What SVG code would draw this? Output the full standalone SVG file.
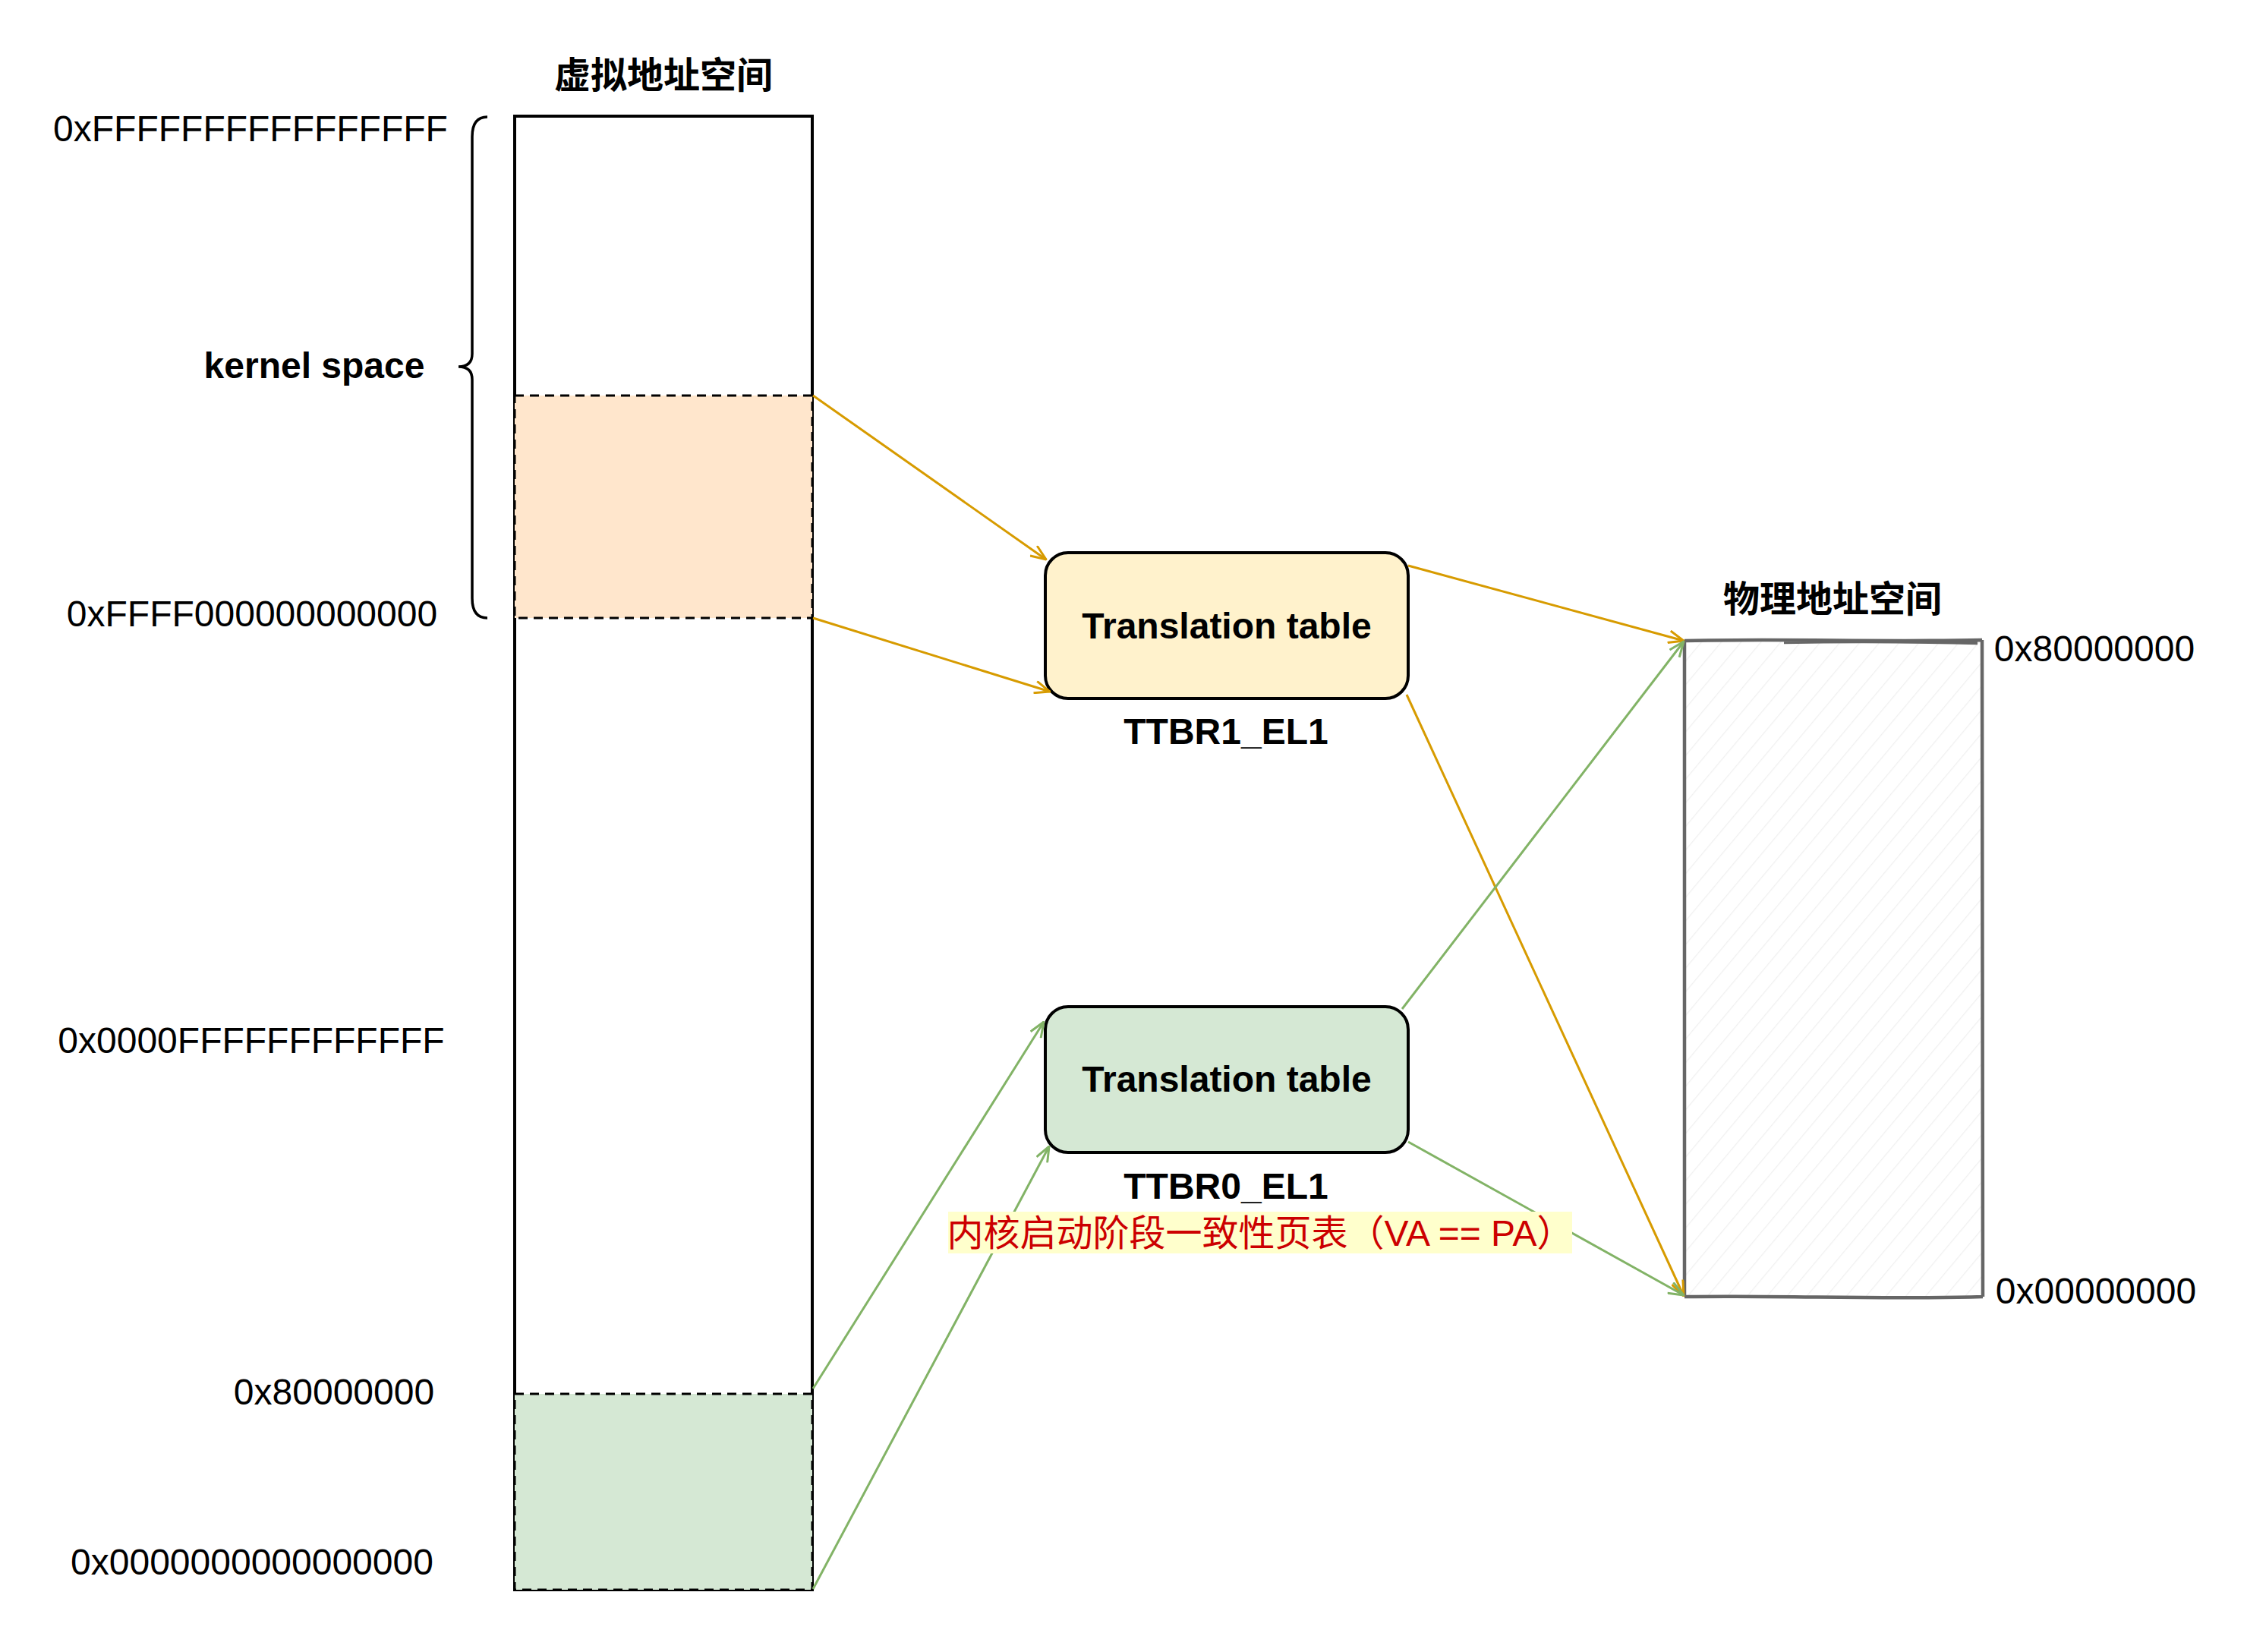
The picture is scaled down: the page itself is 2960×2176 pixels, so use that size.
<svg xmlns="http://www.w3.org/2000/svg" width="2960" height="2176" viewBox="0 0 2960 2176">
<defs>
<style>
.t{font-family:"Liberation Sans",Arial,"Noto Sans CJK SC",sans-serif;font-size:48px;fill:#000}
.b{font-weight:bold}
.cjk{font-family:"Liberation Sans","Noto Sans CJK SC",sans-serif;font-size:48px}
.box{stroke:#000;stroke-width:4}
.dash{stroke:#000;stroke-width:3;stroke-dasharray:12 8}
.co{fill:none;stroke:#d79b00;stroke-width:3}
.cg{fill:none;stroke:#82b366;stroke-width:3}
</style>
<marker id="ao" viewBox="0 0 22 18" refX="21" refY="9" markerWidth="22" markerHeight="18" markerUnits="userSpaceOnUse" orient="auto">
<path d="M1,1 L21,9 L1,17" fill="none" stroke="#d79b00" stroke-width="3"/>
</marker>
<marker id="ag" viewBox="0 0 22 18" refX="21" refY="9" markerWidth="22" markerHeight="18" markerUnits="userSpaceOnUse" orient="auto">
<path d="M1,1 L21,9 L1,17" fill="none" stroke="#82b366" stroke-width="3"/>
</marker>
<pattern id="hatch" patternUnits="userSpaceOnUse" width="20" height="20" patternTransform="rotate(40)">
<line x1="0" y1="0" x2="0" y2="20" stroke="#f0f0f0" stroke-width="2.5"/>
</pattern>
</defs>
<rect width="2960" height="2176" fill="#fff"/>

<g id="va-space">
<text class="t cjk b" x="874" y="116" text-anchor="middle">虚拟地址空间</text>
<rect x="678" y="153" width="392" height="1941" fill="#fff" class="box"/>
</g>
<g id="kernel-region">
<rect x="678" y="521" width="392" height="293" fill="#ffe6cc" class="dash"/>
</g>
<g id="low-region">
<rect x="678" y="1836" width="392" height="258" fill="#d5e8d4" class="dash"/>
</g>
<g id="brace">
<path d="M642,154 Q622,154 622,180 L622,466 Q622,483 604,483 Q622,483 622,500 L622,788 Q622,814 642,814" fill="none" stroke="#000" stroke-width="3.5"/>
</g>
<g id="va-labels">
<text class="t" x="330" y="186" text-anchor="middle">0xFFFFFFFFFFFFFFFF</text>
<text class="t b" x="414" y="498" text-anchor="middle">kernel space</text>
<text class="t" x="332" y="825" text-anchor="middle">0xFFFF000000000000</text>
<text class="t" x="331" y="1387" text-anchor="middle">0x0000FFFFFFFFFFFF</text>
<text class="t" x="440" y="1850" text-anchor="middle">0x80000000</text>
<text class="t" x="332" y="2074" text-anchor="middle">0x0000000000000000</text>
</g>

<g id="tt1">
<rect x="1377" y="728" width="478" height="192" rx="30" ry="30" fill="#fff2cc" class="box"/>
<text class="t b" x="1616" y="841" text-anchor="middle">Translation table</text>
<text class="t b" x="1615" y="980" text-anchor="middle">TTBR1_EL1</text>
</g>
<g id="tt0">
<rect x="1377" y="1326" width="478" height="192" rx="30" ry="30" fill="#d5e8d4" class="box"/>
<text class="t b" x="1616" y="1438" text-anchor="middle">Translation table</text>
<text class="t b" x="1615" y="1579" text-anchor="middle">TTBR0_EL1</text>
</g>

<g id="pa-space">
<text class="t cjk b" x="2414" y="806" text-anchor="middle">物理地址空间</text>
<rect x="2219" y="844" width="392" height="864" fill="url(#hatch)"/>
<path d="M2219,844 C2350,841 2480,846 2611,843 M2350,846 C2450,844 2530,845 2605,847 M2611,843 C2613,1100 2609,1400 2612,1708 M2612,1708 C2480,1712 2350,1706 2219,1708 M2219,1708 C2217,1400 2221,1100 2219,844" fill="none" stroke="#666" stroke-width="4.5"/>
<text class="t" x="2759" y="871" text-anchor="middle">0x80000000</text>
<text class="t" x="2761" y="1717" text-anchor="middle">0x00000000</text>
</g>

<g id="connectors">
<line class="co" x1="1071" y1="521" x2="1378" y2="737" marker-end="url(#ao)"/>
<line class="co" x1="1071" y1="814" x2="1383" y2="911" marker-end="url(#ao)"/>
<line class="co" x1="1855" y1="745" x2="2218" y2="844" marker-end="url(#ao)"/>
<line class="co" x1="1853" y1="915" x2="2218" y2="1707" marker-end="url(#ao)"/>
<line class="cg" x1="1071" y1="1829" x2="1375" y2="1346" marker-end="url(#ag)"/>
<line class="cg" x1="1071" y1="2093" x2="1382" y2="1510" marker-end="url(#ag)"/>
<line class="cg" x1="1847" y1="1329" x2="2218" y2="845" marker-end="url(#ag)"/>
<line class="cg" x1="1855" y1="1504" x2="2218" y2="1706" marker-end="url(#ag)"/>
</g>

<g id="label-identity">
<rect x="1249" y="1596" width="822" height="55" fill="#ffffcc"/>
<text class="cjk" x="1660" y="1641" text-anchor="middle" fill="#cc0000">内核启动阶段一致性页表（VA == PA）</text>
</g>
</svg>
